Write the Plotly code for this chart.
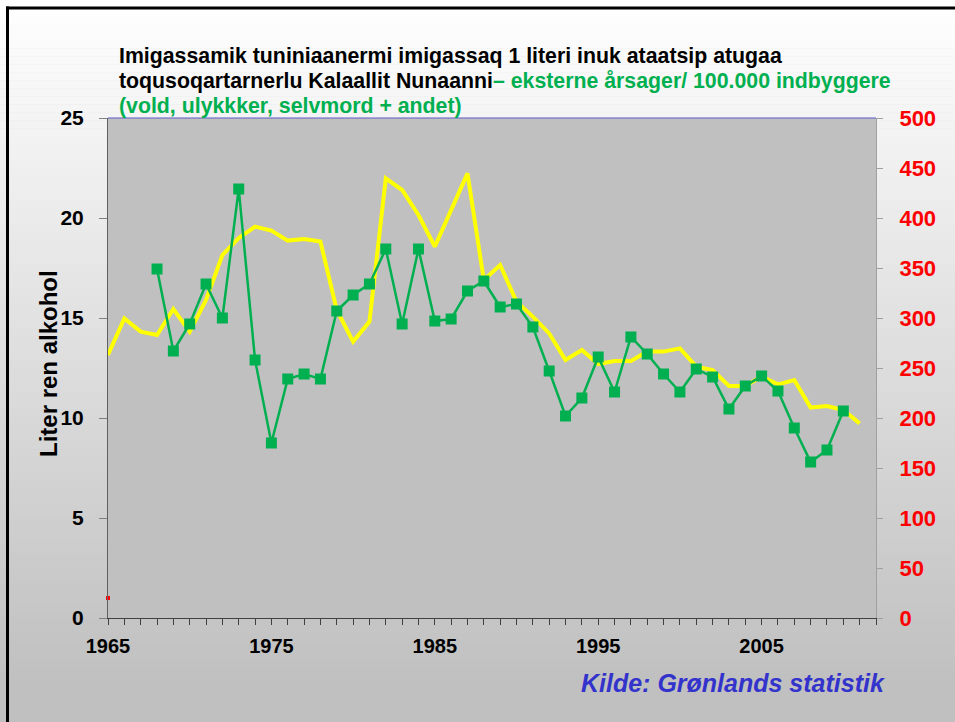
import plotly.graph_objects as go

# ---------------- data ----------------
years_alcohol = list(range(1965, 2012))
alcohol_liters = [13.15, 14.98, 14.32, 14.15, 15.45, 14.32, 15.9, 18.15, 19.0, 19.57,
                  19.37, 18.87, 18.95, 18.82, 15.4, 13.82, 14.82, 21.98, 21.4, 20.15,
                  18.57, 20.4, 22.23, 16.9, 17.65, 15.82, 15.07, 14.23, 12.9, 13.4,
                  12.7, 12.85, 12.85, 13.32, 13.32, 13.48, 12.57, 12.4, 11.6, 11.6,
                  12.07, 11.68, 11.9, 10.52, 10.6, 10.4, 9.73]

years_deaths = list(range(1968, 2011))
external_deaths = [349, 267, 294, 334, 300, 429, 258, 175, 239, 244,
                   239, 307, 323, 334, 369, 294, 369, 297, 299, 327,
                   337, 311, 314, 291, 247, 202, 220, 261, 226, 281,
                   264, 244, 226, 249, 241, 209, 232, 242, 227, 190,
                   156, 168, 207]

red_years = [1965]
red_values = [1]

x_tick_vals = list(range(1965, 2013))
x_tick_text = [str(y) if (y - 1965) % 10 == 0 else "" for y in x_tick_vals]

title_line1 = "Imigassamik tuniniaanermi imigassaq 1 literi inuk ataatsip atugaa"
title_line2_black = "toqusoqartarnerlu Kalaallit Nunaanni"
title_line2_green = "– eksterne årsager/ 100.000 indbyggere"
title_line3 = "(vold, ulykkker, selvmord + andet)"
source_text = "Kilde: Grønlands statistik"
y_title = "Liter ren alkohol"

# ---------------- geometry helpers ----------------
W, H = 955, 722
ML, MR, MT, MB = 108, 79, 118, 104
PW, PH = W - ML - MR, H - MT - MB


def px2x(px):
    return (px - ML) / PW


def px2y(py):
    return (H - MB - py) / PH


FONT = "Liberation Sans, Arial, sans-serif"
GREEN = "#00B050"

fig = go.Figure()

fig.add_trace(go.Scatter(
    x=years_alcohol, y=alcohol_liters, mode="lines",
    line=dict(color="#FFFF00", width=4), yaxis="y", name="alkohol",
))
fig.add_trace(go.Scatter(
    x=red_years, y=red_values, mode="markers",
    marker=dict(color="#FF0000", size=4, symbol="square"), yaxis="y",
    cliponaxis=False, name="red",
))
fig.add_trace(go.Scatter(
    x=years_deaths, y=external_deaths, mode="lines+markers",
    line=dict(color=GREEN, width=2.5),
    marker=dict(color=GREEN, size=11, symbol="square"),
    yaxis="y2", name="eksterne",
))

# ---------------- background shapes ----------------
shapes = []
n = 90
for i in range(n):
    y0 = H * i / n
    y1 = H * (i + 1) / n + 0.5
    t = (i + 0.5) / n
    t = min(1.0, t * 1.06)
    c = int(round(255 - (255 - 192) * t))
    col = f"rgb({c},{c},{c})"
    shapes.append(dict(type="rect", xref="paper", yref="paper", layer="below",
                       x0=px2x(0), x1=px2x(W + 2), y0=px2y(y1), y1=px2y(y0),
                       fillcolor=col, line=dict(width=0)))
# plot area
shapes.append(dict(type="rect", xref="paper", yref="paper", layer="below",
                   x0=0, x1=1, y0=0, y1=1, fillcolor="#C0C0C0", line=dict(width=0)))
# top border of plot area (blue)
shapes.append(dict(type="line", xref="paper", yref="paper", layer="above",
                   x0=0, x1=1, y0=1, y1=1, line=dict(color="#5A5AC8", width=1.2)))
# black frame (top + left)
shapes.append(dict(type="line", xref="paper", yref="paper", layer="above",
                   x0=px2x(6), x1=px2x(W + 2), y0=px2y(8), y1=px2y(8),
                   line=dict(color="#000000", width=3)))
shapes.append(dict(type="line", xref="paper", yref="paper", layer="above",
                   x0=px2x(7.5), x1=px2x(7.5), y0=px2y(6.5), y1=px2y(H + 2),
                   line=dict(color="#000000", width=3)))

annotations = [
    dict(xref="paper", yref="paper", x=px2x(117), y=px2y(56), xanchor="left", yanchor="middle",
         text=title_line1, showarrow=False,
         font=dict(family=FONT, size=21.3, color="#000000", weight="bold")),
    dict(xref="paper", yref="paper", x=px2x(117), y=px2y(81), xanchor="left", yanchor="middle",
         text=f"{title_line2_black}<span style='color:{GREEN}'>{title_line2_green}</span>",
         showarrow=False, font=dict(family=FONT, size=21.3, color="#000000", weight="bold")),
    dict(xref="paper", yref="paper", x=px2x(117), y=px2y(106), xanchor="left", yanchor="middle",
         text=title_line3, showarrow=False,
         font=dict(family=FONT, size=21.3, color=GREEN, weight="bold")),
    dict(xref="paper", yref="paper", x=px2x(887), y=px2y(683), xanchor="right", yanchor="middle",
         text=f"<i>{source_text}</i>", showarrow=False,
         font=dict(family=FONT, size=25, color="#3333CC", weight="bold")),
    dict(xref="paper", yref="paper", x=px2x(48), y=px2y(364), xanchor="center", yanchor="middle",
         text=y_title, textangle=-90, showarrow=False,
         font=dict(family=FONT, size=24, color="#000000", weight="bold")),
]

fig.update_layout(
    width=W, height=H, autosize=False,
    margin=dict(l=ML, r=MR, t=MT, b=MB),
    paper_bgcolor="#C0C0C0", plot_bgcolor="rgba(0,0,0,0)",
    showlegend=False,
    shapes=shapes, annotations=annotations,
    font=dict(family=FONT),
    xaxis=dict(range=[1965, 2012], tickmode="array", tickvals=x_tick_vals, ticktext=x_tick_text,
               ticks="outside", ticklen=6, tickcolor="#404040", tickwidth=1,
               showline=True, linecolor="#404040", linewidth=1, showgrid=False, zeroline=False,
               tickfont=dict(family=FONT, size=20, color="#000000", weight="bold"),
               ticklabelstandoff=4),
    yaxis=dict(range=[0, 25], tickmode="linear", tick0=0, dtick=5,
               ticks="outside", ticklen=8, tickcolor="#808080",
               showline=True, linecolor="#606060", linewidth=1, showgrid=False, zeroline=False,
               tickfont=dict(family=FONT, size=21, color="#000000", weight="bold"),
               ticklabelstandoff=11),
    yaxis2=dict(range=[0, 500], tickmode="linear", tick0=0, dtick=50, overlaying="y", side="right",
                ticks="outside", ticklen=6, tickcolor="#A0A0A0",
                showline=True, linecolor="#A0A0A0", linewidth=1, showgrid=False, zeroline=False,
                tickfont=dict(family=FONT, size=22, color="#FF0000", weight="bold"),
                ticklabelstandoff=12),
)

fig.write_html("out.html", config={"displayModeBar": False},
               post_script="document.body.style.margin='0';")
